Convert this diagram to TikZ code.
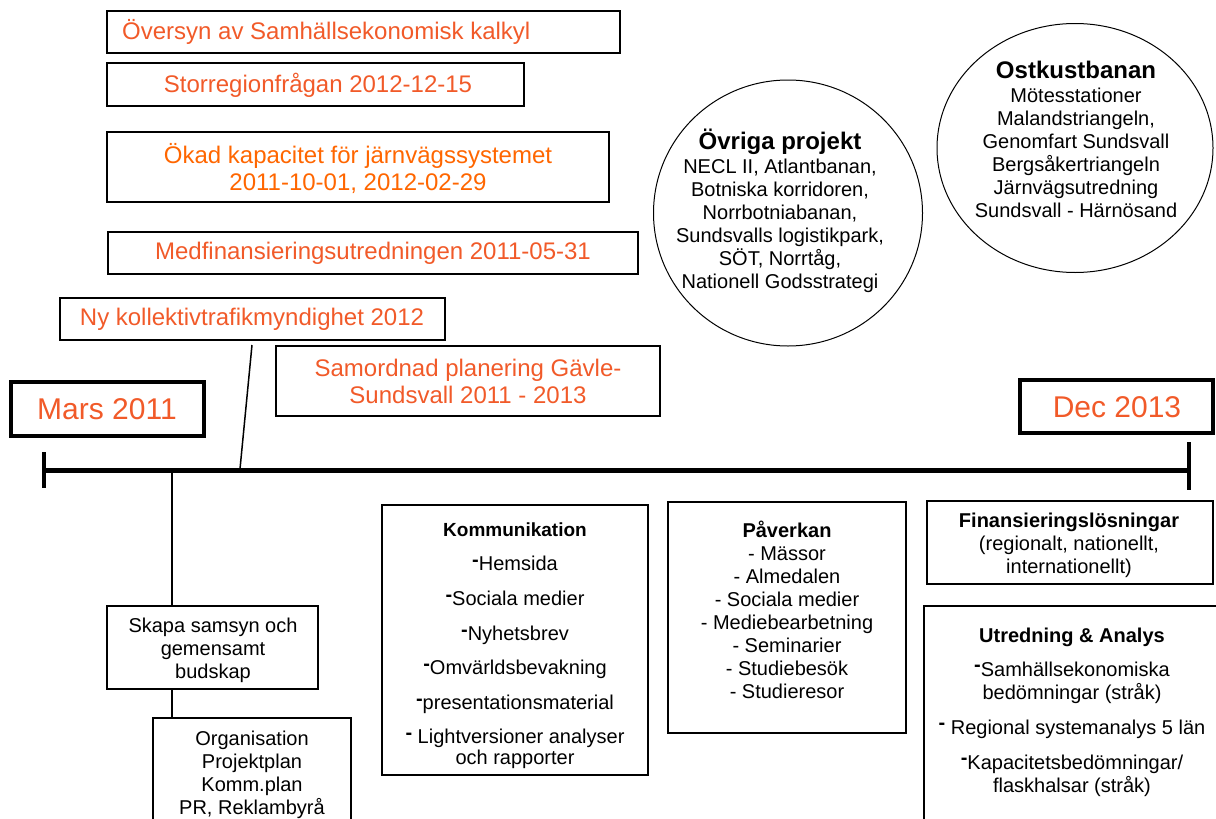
\documentclass[tikz,border=0pt]{standalone}
\usepackage{fontspec}
\setmainfont{Liberation Sans}
\usetikzlibrary{shapes.geometric}
\definecolor{orT}{RGB}{241,90,41}
\definecolor{orTb}{RGB}{255,102,0}
\newcommand{\kdash}{\raisebox{0.22em}{\textbf{-}}}
\begin{document}
\begin{tikzpicture}[x=1pt,y=-1pt,
  frame/.style={draw, anchor=north west, inner sep=0pt, outer sep=0pt},
  topbox/.style={frame, line width=2.5pt},
  datebox/.style={frame, line width=4pt},
  lowbox/.style={frame, line width=1.8pt},
  ring/.style={draw, ellipse, line width=1pt, inner sep=0pt},
  otext/.style={text=orT, font=\fontsize{24}{27}\selectfont, align=center, inner sep=0pt},
  dtext/.style={text=orT, font=\fontsize{30}{34}\selectfont, inner sep=0pt},
  btext/.style={font=\fontsize{20}{23}\selectfont, align=center, inner sep=0pt},
  tline/.style={line width=5pt},
  tick/.style={line width=4.5pt},
  conn/.style={line width=1.5pt}
]
\useasboundingbox (0,0) rectangle (1216,819);
\clip (0,0) rectangle (1216,819);

% top orange boxes
\node[topbox, minimum width=513pt, minimum height=42pt] (b1) at (107,11) {};
\node[topbox, minimum width=417pt, minimum height=43pt] (b2) at (107,63) {};
\node[topbox, minimum width=502pt, minimum height=70pt] (b3) at (107,132) {};
\node[topbox, minimum width=530pt, minimum height=42pt] (b4) at (108,232) {};
\node[topbox, minimum width=385pt, minimum height=42pt] (b5) at (60,298) {};
\node[topbox, minimum width=384pt, minimum height=70pt] (b6) at (276,346) {};

\node[otext, anchor=west, align=left] (t1) at (122,32) {Översyn av Samhällsekonomisk kalkyl};
\node[otext] (t2) at (318,85) {Storregionfrågan 2012-12-15};
\node[otext, text=orTb] (t3) at (358,168) {Ökad kapacitet för järnvägssystemet\\2011-10-01, 2012-02-29};
\node[otext] (t4) at (373,253) {Medfinansieringsutredningen 2011-05-31};
\node[otext] (t5) at (252,319) {Ny kollektivtrafikmyndighet 2012};
\node[otext] (t6) at (468,381) {Samordnad planering Gävle-\\Sundsvall 2011 - 2013};

% date boxes
\node[datebox, minimum width=193pt, minimum height=54pt] (mars) at (11,382) {};
\node[datebox, minimum width=193pt, minimum height=53pt] (dec) at (1020,380) {};
\node[dtext] (marst) at (107,409) {Mars 2011};
\node[dtext] (dect) at (1117,407) {Dec 2013};

% circles
\node[ring, minimum width=269pt, minimum height=266pt] (ovr) at (788,213) {};
\node[ring, minimum width=276pt, minimum height=249pt] (ost) at (1075,148) {};
\node[btext] (ovrt) at (780,211) {{\fontsize{24}{26}\selectfont\bfseries Övriga projekt}\\[1pt]NECL II, Atlantbanan,\\Botniska korridoren,\\Norrbotniabanan,\\Sundsvalls logistikpark,\\SÖT, Norrtåg,\\Nationell Godsstrategi};
\node[btext] (ostt) at (1076,139) {{\fontsize{24}{26}\selectfont\bfseries Ostkustbanan}\\[1pt]Mötesstationer\\Malandstriangeln,\\Genomfart Sundsvall\\Bergsåkertriangeln\\Järnvägsutredning\\Sundsvall - Härnösand};

% timeline
\coordinate (tlL) at (44,470);
\coordinate (tlR) at (1189,470);
\coordinate (tlLt) at (44,452);
\coordinate (tlLb) at (44,488);
\coordinate (tlRt) at (1189,442);
\coordinate (tlRb) at (1189,490);
\draw[tline] (tlL) -- (tlR);
\draw[tick] (tlLt) -- (tlLb);
\draw[tick] (tlRt) -- (tlRb);

% lower boxes
\node[lowbox, minimum width=211pt, minimum height=83pt] (skapa) at (107,606) {};
\node[lowbox, minimum width=198pt, minimum height=130pt] (org) at (153,718) {};
\node[lowbox, minimum width=266pt, minimum height=270pt] (komm) at (382,505) {};
\node[lowbox, minimum width=238pt, minimum height=231pt] (pav) at (668,502) {};
\node[lowbox, minimum width=286pt, minimum height=83pt] (fin) at (927,501) {};
\node[lowbox, minimum width=310pt, minimum height=240pt] (utr) at (924,606) {};

\node[btext] (skapat) at (213,650) {Skapa samsyn och\\gemensamt\\budskap};
\node[btext] (orgt) at (252,775) {Organisation\\Projektplan\\Komm.plan\\PR, Reklambyrå};
\node[btext] (kommt) at (515,646) {{\fontsize{19}{23}\selectfont\bfseries Kommunikation}\\[11pt]\kdash Hemsida\\[12pt]\kdash Sociala medier\\[12pt]\kdash Nyhetsbrev\\[11pt]\kdash Omvärldsbevakning\\[12pt]\kdash presentationsmaterial\\[11pt]\kdash{} Lightversioner analyser\\[-2pt]och rapporter};
\node[btext] (pavt) at (787,610) {{\bfseries Påverkan}\\- Mässor\\- Almedalen\\- Sociala medier\\- Mediebearbetning\\- Seminarier\\- Studiebesök\\- Studieresor};
\node[btext] (fint) at (1069,545) {{\bfseries Finansieringslösningar}\\(regionalt, nationellt,\\internationellt)};
\node[btext] (utrt) at (1072,712) {{\bfseries Utredning \& Analys}\\[11pt]\kdash Samhällsekonomiska\\bedömningar (stråk)\\[12pt]\kdash{} Regional systemanalys 5 län\\[12pt]\kdash Kapacitetsbedömningar/\\flaskhalsar (stråk)};

% connectors
\coordinate (nyfoot) at (252,345);
\coordinate (tlNy) at (240,469);
\coordinate (tlSk) at (172,470);
\draw[conn] (nyfoot) -- (tlNy);
\draw[conn] (tlSk) -- (skapa.north -| tlSk);
\draw[conn] (skapa.south -| tlSk) -- (org.north -| tlSk);
\end{tikzpicture}
\end{document}
